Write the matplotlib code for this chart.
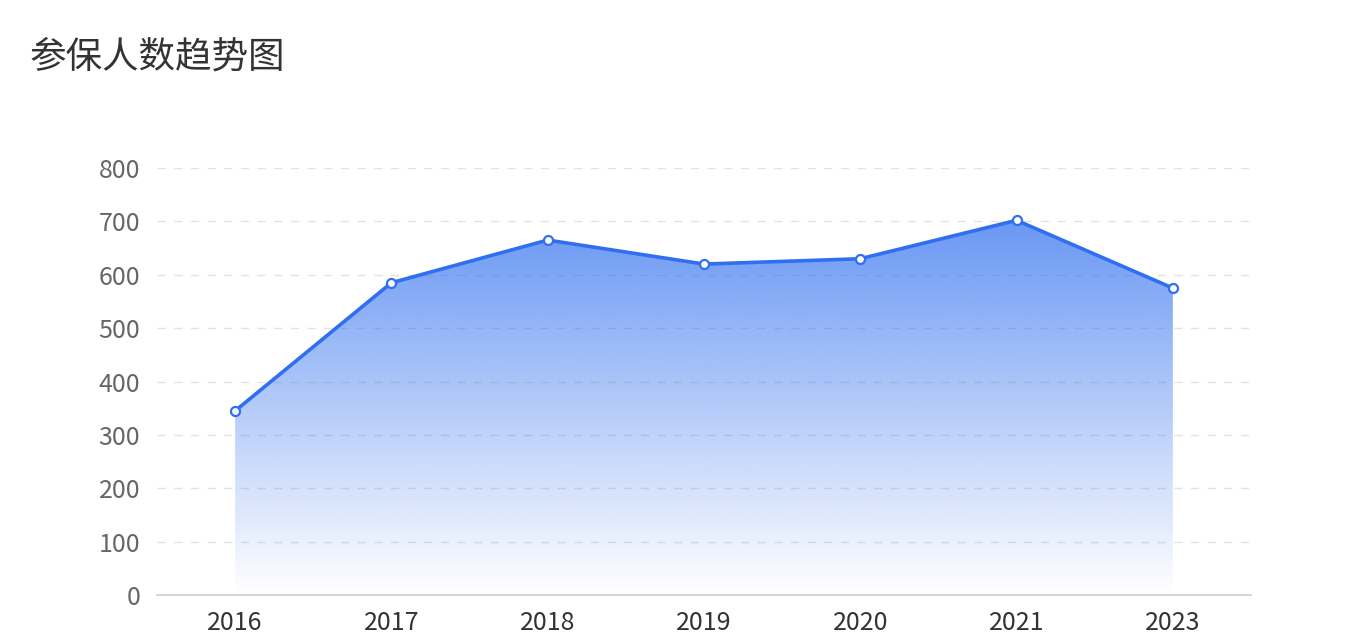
import matplotlib.pyplot as plt
import numpy as np
from matplotlib.colors import to_rgb

plt.rcParams['font.family'] = ['Noto Sans CJK SC', 'DejaVu Sans']

# data
years = ['2016', '2017', '2018', '2019', '2020', '2021', '2023']
counts = [345, 585, 665, 620, 630, 702, 575]
y_ticks = [0, 100, 200, 300, 400, 500, 600, 700, 800]

line_color = '#2f6ff0'

fig = plt.figure(figsize=(13.46, 6.44), dpi=100)
ax = fig.add_axes([157 / 1346, 49 / 644, 1094 / 1346, 427 / 644])

x = np.arange(len(years))

# gradient fill under the line
poly = ax.fill_between(x, counts, 0, color='none', lw=0)
rgb = to_rgb(line_color)
grad = np.zeros((256, 1, 4))
grad[:, 0, :3] = rgb
grad[:, 0, 3] = np.linspace(0.72, 0.0, 256)
img = ax.imshow(grad, aspect='auto', extent=[x[0], x[-1], 0, max(counts)],
                origin='upper', zorder=1)
img.set_clip_path(poly.get_paths()[0], transform=ax.transData)

ax.plot(x, counts, color=line_color, lw=2.6, zorder=3,
        marker='o', markersize=6.5, markerfacecolor='white',
        markeredgecolor=line_color, markeredgewidth=1.6)

ax.set_xlim(-0.5, len(years) - 0.5)
ax.set_ylim(0, 800)
ax.set_xticks(x)
ax.set_xticklabels(years)
ax.set_yticks(y_ticks)

for v in y_ticks[1:]:
    ax.axhline(v, color='#e3e3e3', lw=1, ls=(0, (6, 6)), zorder=0)

for s in ['top', 'right', 'left']:
    ax.spines[s].set_visible(False)
ax.spines['bottom'].set_color('#cccccc')
ax.spines['bottom'].set_linewidth(1.2)

ax.tick_params(axis='both', length=0, labelsize=18)
ax.tick_params(axis='x', colors='#333333', pad=11)
ax.tick_params(axis='y', colors='#666666', pad=12)

fig.text(30 / 1346, 1 - 58 / 644, '参保人数趋势图', fontsize=26.3,
         color='#333333', va='center', ha='left')

plt.savefig('out.png', dpi=100)
